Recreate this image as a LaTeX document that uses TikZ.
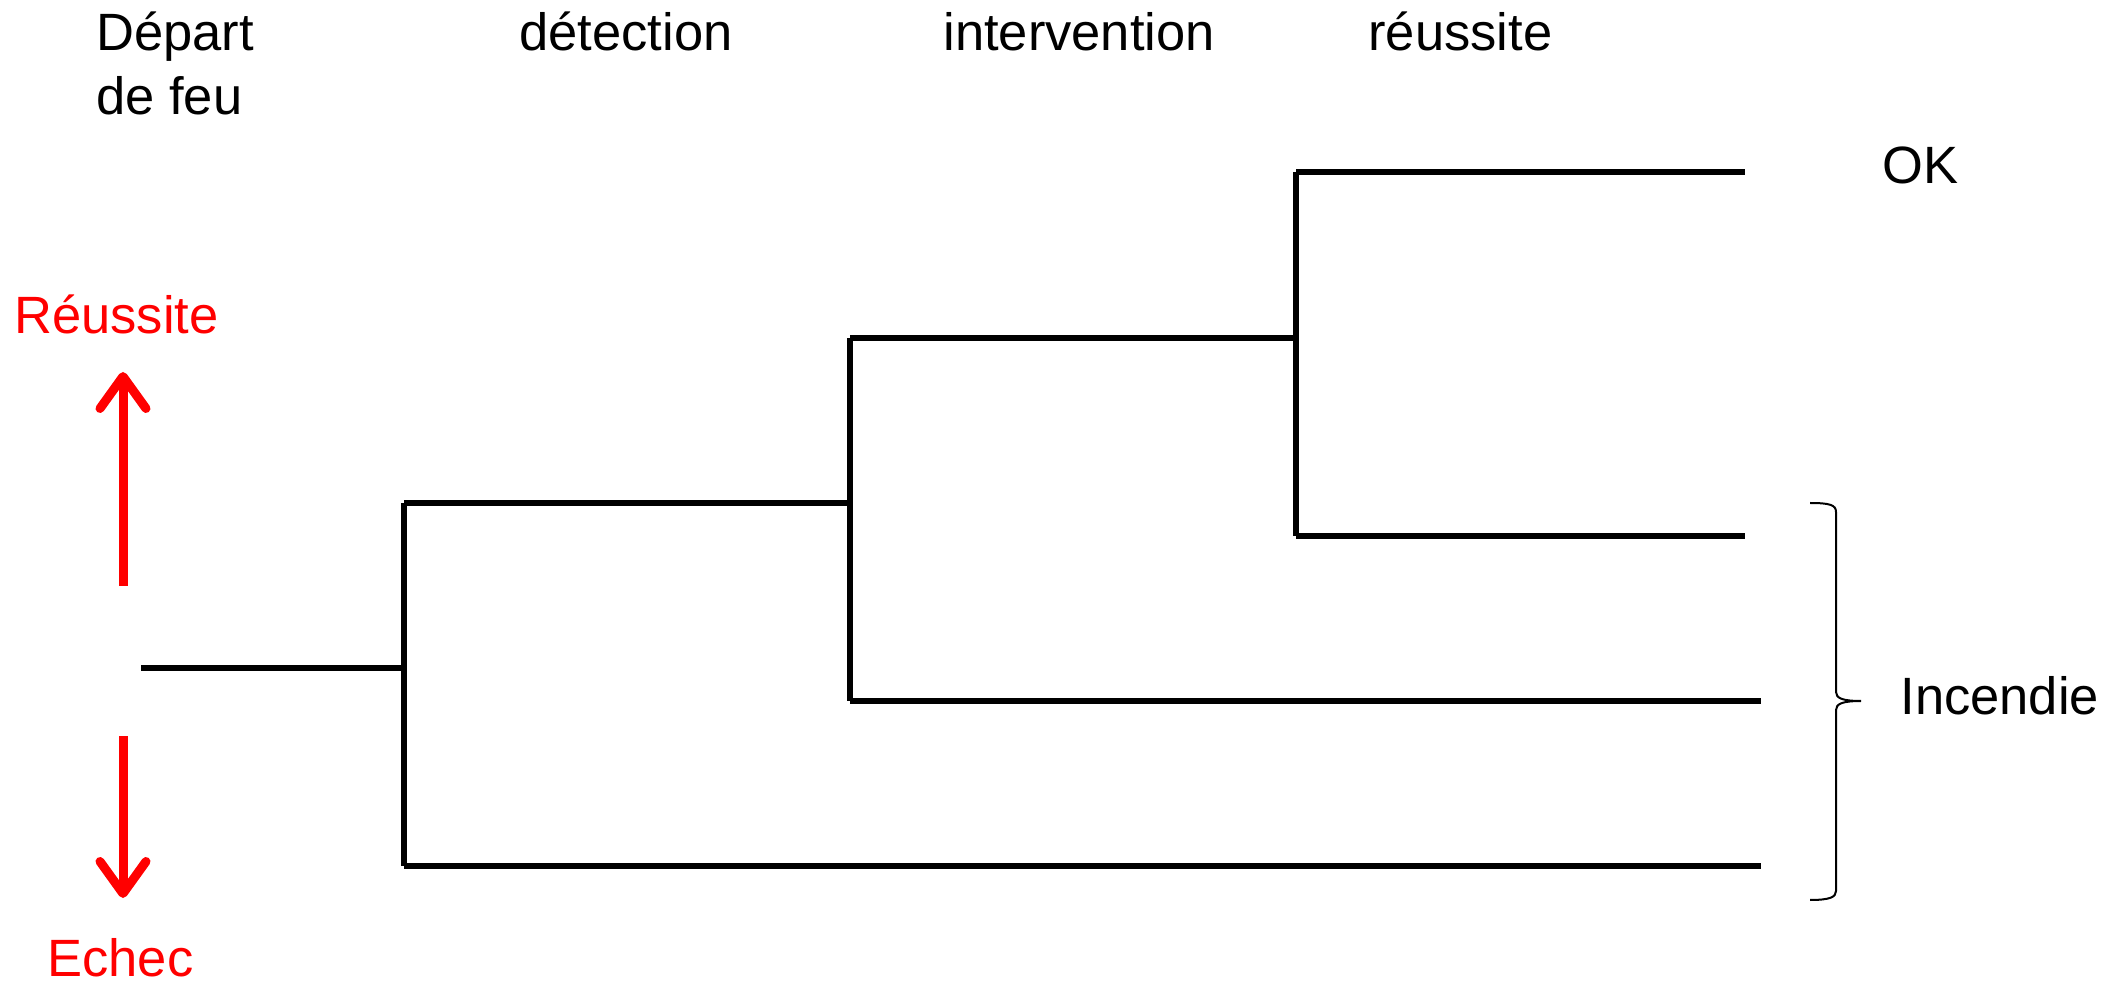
\documentclass[tikz,border=0pt]{standalone}
\usepackage{fontspec}
\setmainfont{Liberation Sans}
\usetikzlibrary{arrows.meta}
\begin{document}
\begin{tikzpicture}[x=0.5pt,y=-0.5pt,
  branch/.style={line width=3pt,line cap=butt},
  lbl/.style={inner sep=0pt,anchor=base west,font=\fontsize{26.25}{30}\selectfont},
  redlbl/.style={lbl,text={rgb,255:red,255;green,0;blue,0}},
  trend/.style={line width=4.5pt,draw={rgb,255:red,255;green,0;blue,0},
    -{Straight Barb[length=16pt,width=23pt,round]}},
  bracket/.style={line width=1pt}]
\useasboundingbox (0,0) rectangle (2121,983);

% column headings
\node[lbl] (depart) at (96,51) {Départ};
\node[lbl] (defeu) at (96,115) {de feu};
\node[lbl] (detect) at (519,51) {détection};
\node[lbl] (interv) at (943,51) {intervention};
\node[lbl] (reuss) at (1368,51) {réussite};

% outcomes
\node[lbl] (ok) at (1882,184) {OK};
\node[lbl] (incendie) at (1900,714) {Incendie};

% legend: success upward, failure downward
\node[redlbl] (succ) at (14,334) {Réussite};
\node[redlbl] (echec) at (47,976) {Echec};
\coordinate (upfrom) at (123,586);
\coordinate (upto) at (123,372);
\coordinate (dnfrom) at (123,736);
\coordinate (dnto) at (123,898);
\draw[trend] (upfrom) -- (upto);
\draw[trend] (dnfrom) -- (dnto);

% event tree junctions
\coordinate (start) at (141,668);
\coordinate (f0) at (404,668);
\coordinate (f0up) at (404,503);
\coordinate (f0dn) at (404,866);
\coordinate (d0) at (850,503);
\coordinate (d0up) at (850,338);
\coordinate (d0dn) at (850,701);
\coordinate (i0) at (1296,338);
\coordinate (i0up) at (1296,172);
\coordinate (i0dn) at (1296,536);
\coordinate (leafA) at (1745,172);
\coordinate (leafB) at (1745,536);
\coordinate (leafC) at (1761,701);
\coordinate (leafD) at (1761,866);

% fire start
\draw[branch] (start) -- (f0);
\draw[branch] (f0up) -- (f0dn);
% detection
\draw[branch] (f0up) -- (d0);
\draw[branch] (f0dn) -- (leafD);
\draw[branch] (d0up) -- (d0dn);
% intervention
\draw[branch] (d0up) -- (i0);
\draw[branch] (d0dn) -- (leafC);
\draw[branch] (i0up) -- (i0dn);
% success of intervention
\draw[branch] (i0up) -- (leafA);
\draw[branch] (i0dn) -- (leafB);

% brace gathering the fire outcomes
\coordinate (brtop) at (1810,503);
\coordinate (brbot) at (1810,900);
\coordinate (brtip) at (1861,701);
\draw[bracket] (brtop) .. controls (1830,503) and (1836,505) .. (1836,512)
  -- (1836,692) .. controls (1836,698) and (1842,701) .. (brtip)
  .. controls (1842,701) and (1836,704) .. (1836,710)
  -- (1836,891) .. controls (1836,897) and (1830,900) .. (brbot);
\end{tikzpicture}
\end{document}
